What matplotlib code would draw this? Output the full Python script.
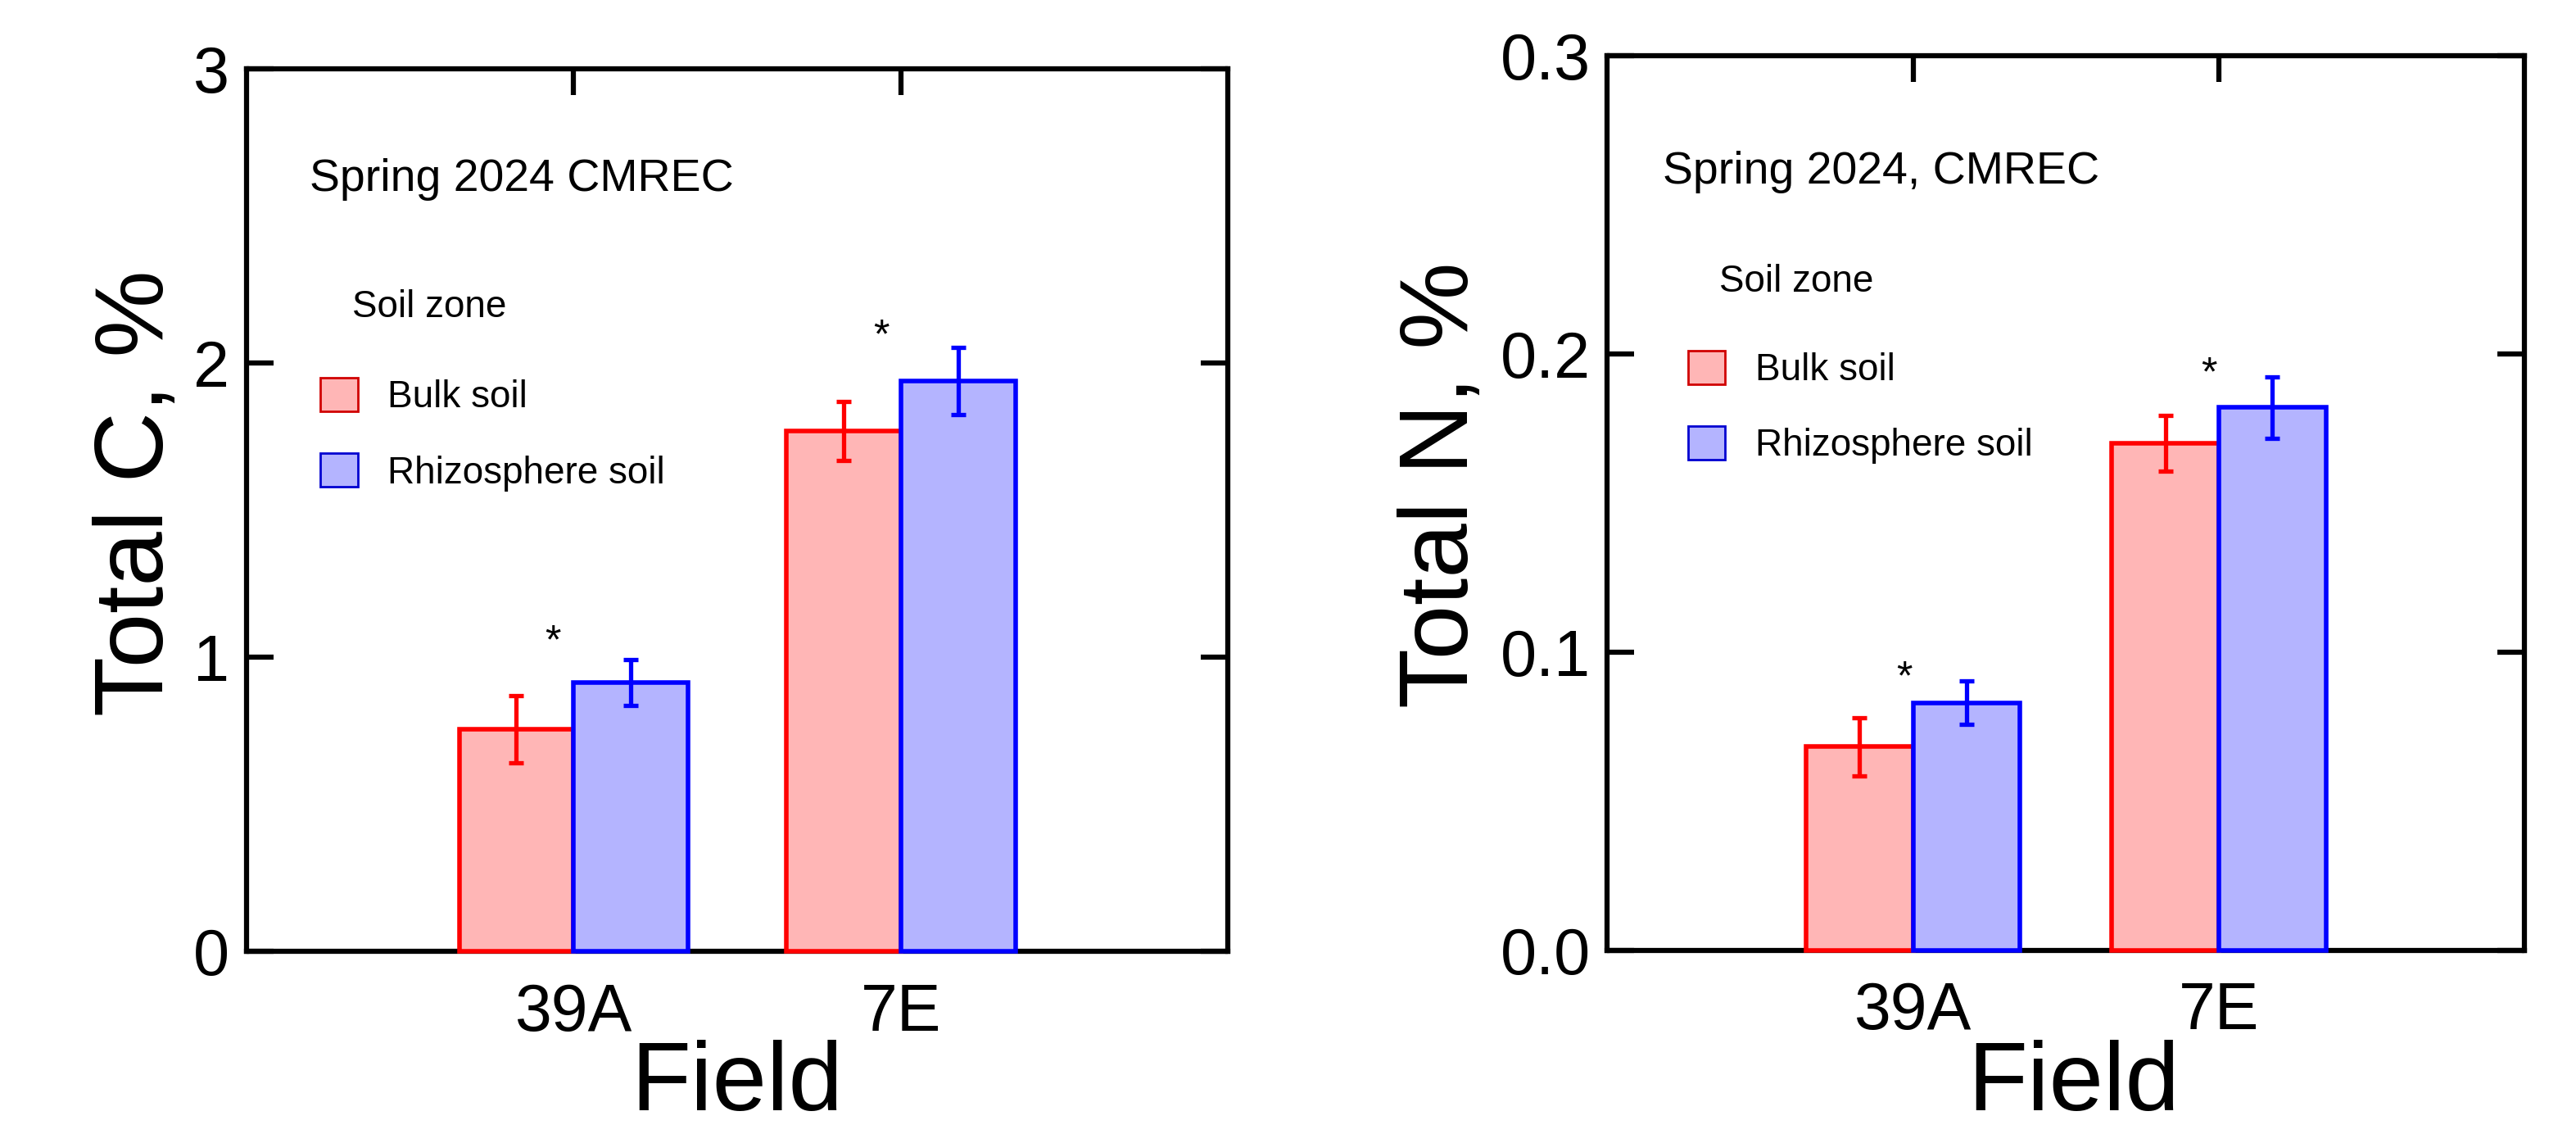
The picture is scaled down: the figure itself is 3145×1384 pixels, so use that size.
import matplotlib
matplotlib.use('Agg')
import matplotlib.pyplot as plt
import matplotlib.patches as mpatches
import numpy as np

# ---- data ----
fields = ['39A', '7E']
zones = ['Bulk soil', 'Rhizosphere soil']

total_c = [0.755, 1.77]
total_c_rhizo = [0.913, 1.94]
total_c_err = [0.115, 0.10]
total_c_rhizo_err = [0.078, 0.115]
c_star_x = [-0.065, 0.94]
c_star_y = [1.05, 2.09]

total_n = [0.0683, 0.170]
total_n_rhizo = [0.0830, 0.182]
total_n_err = [0.0098, 0.0093]
total_n_rhizo_err = [0.0072, 0.0103]
n_star_x = [-0.03, 0.967]
n_star_y = [0.091, 0.193]

# ---- style ----
plt.rcParams['font.family'] = ['Liberation Sans', 'DejaVu Sans']
bulk_face, bulk_edge = '#FFB6B6', '#FF0000'
rhizo_face, rhizo_edge = '#B4B4FF', '#0000FF'
bar_w = 0.35

fig = plt.figure(figsize=(31.45, 13.84), dpi=100)
ax1 = fig.add_axes([0.0957, 0.161, 0.381, 0.778])
ax2 = fig.add_axes([0.624, 0.162, 0.356, 0.789])


def draw_panel(ax, bulk, rhizo, bulk_err, rhizo_err, star_x, star_y,
               ymax, yticks, yfmt, ylabel, title, title_xy, zone_xy, leg_xy,
               ylab_x, xlab_x):
    x = np.arange(len(fields))
    ax.bar(x - bar_w / 2, bulk, bar_w, color=bulk_face, edgecolor=bulk_edge,
           linewidth=4, zorder=3, clip_on=False)
    ax.bar(x + bar_w / 2, rhizo, bar_w, color=rhizo_face, edgecolor=rhizo_edge,
           linewidth=4, zorder=3, clip_on=False)
    ax.errorbar(x - bar_w / 2, bulk, yerr=bulk_err, fmt='none', ecolor=bulk_edge,
                elinewidth=3.8, capsize=6.5, capthick=3.8, zorder=4)
    ax.errorbar(x + bar_w / 2, rhizo, yerr=rhizo_err, fmt='none', ecolor=rhizo_edge,
                elinewidth=3.8, capsize=6.5, capthick=3.8, zorder=4)
    for sx, sy in zip(star_x, star_y):
        ax.text(sx, sy, '*', fontsize=36, ha='center', va='center')

    ax.set_xlim(-1, 2)
    ax.set_ylim(0, ymax)
    ax.set_xticks(x)
    ax.set_xticklabels(fields)
    ax.set_yticks(yticks)
    ax.set_yticklabels([yfmt.format(v) for v in yticks])

    for sp in ax.spines.values():
        sp.set_linewidth(4.5)
    ax.tick_params(axis='y', direction='in', length=24, width=4.5, left=True,
                   right=True, labelsize=57, pad=15)
    ax.tick_params(axis='x', direction='in', length=23, width=4.5, bottom=False,
                   top=True, labelsize=58, pad=27)

    ax.set_ylabel(ylabel, fontsize=86)
    ax.yaxis.set_label_coords(ylab_x, 0.52)
    ax.set_xlabel('Field', fontsize=86)
    ax.xaxis.set_label_coords(xlab_x, -0.10)

    ax.text(title_xy[0], title_xy[1], title, transform=ax.transAxes,
            fontsize=40, ha='left', va='center')
    ax.text(zone_xy[0], zone_xy[1], 'Soil zone', transform=ax.transAxes,
            fontsize=33, ha='left', va='center')
    handles = [mpatches.Patch(facecolor=bulk_face, edgecolor='#D00000', linewidth=2),
               mpatches.Patch(facecolor=rhizo_face, edgecolor='#0000D0', linewidth=2)]
    ax.legend(handles, zones, loc='upper left', bbox_to_anchor=leg_xy,
              frameon=False, fontsize=33, handlelength=1.0, handleheight=1.0,
              handletextpad=0.8, labelspacing=1.0, borderpad=0, borderaxespad=0)


draw_panel(ax1, total_c, total_c_rhizo, total_c_err, total_c_rhizo_err,
           c_star_x, c_star_y, 3, [0, 1, 2, 3], '{:.0f}', 'Total C, %',
           'Spring 2024 CMREC', (0.064, 0.875), (0.108, 0.730), (0.075, 0.650),
           -0.064, 0.50)
draw_panel(ax2, total_n, total_n_rhizo, total_n_err, total_n_rhizo_err,
           n_star_x, n_star_y, 0.3, [0.0, 0.1, 0.2, 0.3], '{:.1f}', 'Total N, %',
           'Spring 2024, CMREC', (0.060, 0.870), (0.1215, 0.747), (0.0876, 0.670),
           -0.130, 0.508)

fig.savefig('out.png', dpi=100)
